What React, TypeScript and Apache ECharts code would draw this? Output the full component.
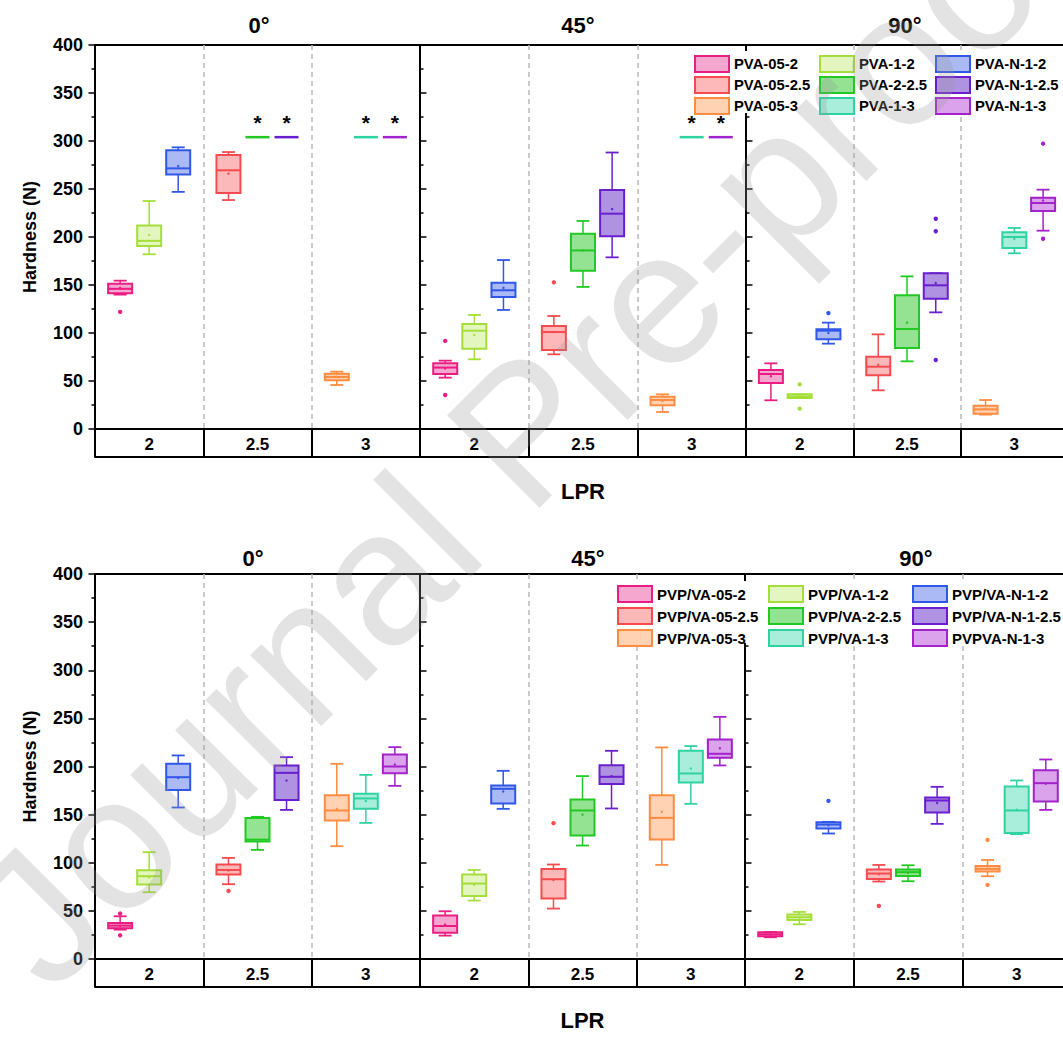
import React, { useEffect, useRef } from 'react';
import * as echarts from 'echarts';

// ---------- data ----------
const LPR = ['2', '2.5', '3'];
const ANGLES = ['0°', '45°', '90°'];

// box order inside each panel: LPR 2 (05, 1, N-1), LPR 2.5 (05, 2, N-1), LPR 3 (05, 1, N-1)
const PVA_NAMES = ['PVA-05-2', 'PVA-1-2', 'PVA-N-1-2', 'PVA-05-2.5', 'PVA-2-2.5', 'PVA-N-1-2.5', 'PVA-05-3', 'PVA-1-3', 'PVA-N-1-3'];
const PVP_NAMES = ['PVP/VA-05-2', 'PVP/VA-1-2', 'PVP/VA-N-1-2', 'PVP/VA-05-2.5', 'PVP/VA-2-2.5', 'PVP/VA-N-1-2.5', 'PVP/VA-05-3', 'PVP/VA-1-3', 'PVPVA-N-1-3'];

// value at which samples above the measuring limit are marked with "*"
const LIMIT_MARK = 304;

// [min, Q1, median, Q3, max, mean] ; null = above the measuring limit (*)
const PVA_0 = [
  [140, 141.3, 146, 151.4, 154.5, 147],
  [182, 190.6, 196, 212, 237.5, 202],
  [247, 265, 271.5, 290.3, 293.4, 274],
  [238.5, 245.8, 269.5, 285.4, 288.5, 266],
  null,
  null,
  [45.8, 50.7, 54.2, 57.6, 59.7, 54.5],
  null,
  null,
];
const PVA_0_OUT = [[122], [], [], [], [], [], [], [], []];

const PVA_45 = [
  [53.5, 57.3, 64, 68.4, 71.2, 63],
  [72.6, 83.7, 102.4, 109.4, 118.8, 98],
  [124, 137.5, 144.5, 152.4, 176, 147],
  [77.8, 82.3, 101, 107.3, 117.7, 101],
  [148, 164.9, 186, 203.5, 216.7, 186],
  [178.8, 200.7, 224.3, 249, 288, 229],
  [17.7, 24.7, 30.2, 33.7, 36.1, 29],
  null,
  null,
];
const PVA_45_OUT = [[91.7, 35.4], [], [], [152.8], [], [], [], [], []];

const PVA_90 = [
  [29.9, 47.9, 57.3, 61.5, 68.4, 55],
  [32.3, 32.3, 34, 36.1, 36.1, 34],
  [88.9, 93.4, 102.4, 103.8, 110.8, 100],
  [40.3, 55.9, 64.9, 75.3, 98.6, 67],
  [70.5, 84.4, 104.2, 139.3, 159, 110.8],
  [121.5, 135.7, 149.7, 162.2, 162.2, 152],
  [15, 16, 20.5, 24.3, 30.2, 21],
  [183, 188.5, 200, 204.9, 209.4, 198],
  [206.6, 227, 235.4, 241, 249.3, 238],
];
const PVA_90_OUT = [[], [46.5, 21.2], [120.8], [], [], [219, 206, 71.9], [], [], [297.2, 198.2]];

const PVP_0 = [
  [30.5, 31.9, 34.7, 37.4, 44.4, 34.5],
  [69.4, 77.4, 86, 92.2, 111, 85],
  [157.4, 175.7, 188.9, 202.8, 211.5, 188],
  [77.7, 87.8, 92.5, 98.2, 105, 92],
  [113.4, 122, 124, 146.6, 147.7, 130.4],
  [154.9, 165.3, 193.4, 201.1, 209.7, 185.5],
  [117.2, 143.9, 154.3, 170.2, 202.8, 156],
  [141.4, 156, 166.8, 171.6, 191.3, 164],
  [179.9, 193.1, 200, 212.5, 220.1, 202],
];
const PVP_0_OUT = [[47.2, 24.6], [], [], [70.7], [], [], [], [], []];

const PVP_45 = [
  [24.3, 27.4, 34.3, 45.1, 49.6, 35.7],
  [60.7, 65.5, 78.4, 87.8, 92.5, 77],
  [156, 161.6, 176.8, 180.3, 195.5, 174],
  [52.4, 62.8, 82.9, 93.6, 98.2, 82],
  [117.9, 128.3, 154.3, 165.7, 190, 150],
  [156.4, 181.7, 189.3, 201.4, 216.3, 190],
  [97.8, 124.2, 146.6, 170.2, 219.8, 153],
  [161.2, 183.4, 192.8, 216.3, 221.2, 198],
  [201.1, 209, 213.2, 228.1, 251.6, 219],
];
const PVP_45_OUT = [[], [], [], [141.1], [], [], [], [], []];

const PVP_90 = [
  [22.6, 23.6, 25.7, 27.8, 28, 25.5],
  [36.1, 40.6, 43.4, 46.2, 48.9, 43],
  [130.4, 135.6, 139.7, 142.1, 142.5, 139],
  [80.5, 83.2, 88.8, 92.9, 97.7, 88],
  [80.8, 86.3, 90.2, 92.9, 97.4, 89.5],
  [140.4, 152.2, 164.7, 167.8, 178.9, 162],
  [86, 90.9, 93.6, 96.7, 102.9, 94],
  [129.7, 131, 154.3, 179.3, 185.5, 155],
  [154.9, 163.7, 182.7, 196.2, 207.3, 182],
];
const PVP_90_OUT = [[], [], [164.3], [55.1], [], [], [123.7, 77], [], []];

// ---------- styles ----------
const BORDER = ['#EA1E82', '#A5DE3A', '#3058E8', '#F54B4F', '#22C922', '#6A1FCF', '#FF8C40', '#2ED3A1', '#A322CC'];
const FILL = ['#F5A7D0', '#E4F6BF', '#ABB9F4', '#FDB9BA', '#93E393', '#AF92E2', '#FFD2B3', '#A9EEDA', '#DBA3EC'];
const FONT = '"Liberation Sans", Arial, Helvetica, sans-serif';

const BOX_W = 24;
const CAP_W = 13;
const SLOT_SHIFT = 0.268;

const ROWS = [
  { names: PVA_NAMES, boxes: [PVA_0, PVA_45, PVA_90], outs: [PVA_0_OUT, PVA_45_OUT, PVA_90_OUT], top: 45, height: 384, lefts: [95, 420, 746], widths: [325, 326, 322], titleX: [259, 578, 905], titleTop: 14.5, legendLeft: [694, 819, 935], legendTop: 55, legendGap: 3, legendFont: 14.8, lprGap: 23 },
  { names: PVP_NAMES, boxes: [PVP_0, PVP_45, PVP_90], outs: [PVP_0_OUT, PVP_45_OUT, PVP_90_OUT], top: 574, height: 385, lefts: [95, 420, 745], widths: [325, 325, 326], titleX: [253, 588, 916], titleTop: 547, legendLeft: [617, 768, 912], legendTop: 585, legendGap: 4, legendFont: 15, lprGap: 22 },
];

function makeRenderItem(slot: number, border: string, fill: string, outliers: number[], over: boolean) {
  return (_params: any, api: any) => {
    const cat = api.value(0);
    const band = api.size([1, 0])[0];
    const cx = api.coord([cat, 0])[0] + (slot - 1) * band * SLOT_SHIFT;
    const Y = (v: number) => api.coord([cat, v])[1];
    const half = BOX_W / 2;
    if (over) {
      const yl = Y(api.value(3));
      return {
        type: 'group',
        children: [
          { type: 'line', shape: { x1: cx - half, y1: yl, x2: cx + half, y2: yl }, style: { stroke: border, lineWidth: 2.5 } },
          {
            type: 'text', x: cx, y: yl - 15,
            style: { text: '*', fill: '#000', font: `bold 21px ${FONT}`, align: 'center', verticalAlign: 'middle', textAlign: 'center', textVerticalAlign: 'middle' },
          },
        ],
      };
    }
    const ymin = Y(api.value(1));
    const yq1 = Y(api.value(2));
    const ymed = Y(api.value(3));
    const yq3 = Y(api.value(4));
    const ymax = Y(api.value(5));
    const ymean = Y(api.value(6));
    const children: any[] = [
      { type: 'line', shape: { x1: cx, y1: yq3, x2: cx, y2: ymax }, style: { stroke: border, lineWidth: 1.5 } },
      { type: 'line', shape: { x1: cx, y1: yq1, x2: cx, y2: ymin }, style: { stroke: border, lineWidth: 1.5 } },
      { type: 'line', shape: { x1: cx - CAP_W / 2, y1: ymax, x2: cx + CAP_W / 2, y2: ymax }, style: { stroke: border, lineWidth: 1.8 } },
      { type: 'line', shape: { x1: cx - CAP_W / 2, y1: ymin, x2: cx + CAP_W / 2, y2: ymin }, style: { stroke: border, lineWidth: 1.8 } },
      { type: 'rect', shape: { x: cx - half, y: yq3, width: BOX_W, height: Math.max(yq1 - yq3, 1) }, style: { fill, stroke: border, lineWidth: 2 } },
      { type: 'line', shape: { x1: cx - half, y1: ymed, x2: cx + half, y2: ymed }, style: { stroke: border, lineWidth: 2 } },
      { type: 'circle', shape: { cx, cy: ymean, r: 1.2 }, style: { fill: border } },
    ];
    outliers.forEach((o) => {
      children.push({ type: 'circle', shape: { cx, cy: Y(o), r: 2.2 }, style: { fill: border } });
    });
    return { type: 'group', children };
  };
}

function buildOption() {
  const grid: any[] = [];
  const xAxis: any[] = [];
  const yAxis: any[] = [];
  const series: any[] = [];
  const title: any[] = [];
  const legend: any[] = [];

  ROWS.forEach((row, r) => {
    for (let p = 0; p < 3; p++) {
      const g = r * 3 + p;
      grid.push({
        left: row.lefts[p], width: row.widths[p], top: row.top, height: row.height,
        show: true, borderColor: '#000', borderWidth: 2, backgroundColor: 'transparent',
        containLabel: false, outerBoundsMode: 'none',
      });
      xAxis.push({
        type: 'category', gridIndex: g, data: LPR, position: 'bottom', boundaryGap: true,
        axisLine: { show: true, onZero: false, lineStyle: { color: '#000', width: 2 } },
        axisTick: { show: true, interval: 0, length: 28, inside: false, lineStyle: { color: '#000', width: 2 } },
        axisLabel: { show: true, interval: 0, margin: 6.5, color: '#000', fontSize: 17, fontWeight: 'bold', fontFamily: FONT },
        splitLine: { show: true, interval: 0, showMinLine: false, showMaxLine: false, lineStyle: { color: '#b9b9b9', width: 1.5, type: [5, 4] } },
      });
      xAxis.push({
        type: 'category', gridIndex: g, data: LPR, position: 'bottom', offset: 28,
        axisLine: { show: true, onZero: false, lineStyle: { color: '#000', width: 2 } },
        axisTick: { show: false }, axisLabel: { show: false }, splitLine: { show: false },
        name: p === 1 ? 'LPR' : '', nameLocation: 'middle', nameGap: row.lprGap, nameMoveOverlap: false,
        nameTextStyle: { color: '#000', fontSize: 22, fontWeight: 'bold', fontFamily: FONT },
      });
      yAxis.push({
        type: 'value', gridIndex: g, min: 0, max: 400, interval: 50,
        axisLine: { show: true, onZero: false, lineStyle: { color: '#000', width: 2 } },
        axisTick: { show: true, inside: p !== 0, length: 6.5, lineStyle: { color: '#000', width: 1.5 } },
        minorTick: { show: true, splitNumber: 2, length: 3.5, lineStyle: { color: '#000', width: 1.5 } },
        axisLabel: p === 0
          ? { show: true, margin: 12, color: '#000', fontSize: 18, fontWeight: 'bold', fontFamily: FONT }
          : { show: false },
        splitLine: { show: false },
        name: p === 0 ? 'Hardness (N)' : '', nameLocation: 'middle', nameGap: 56, nameRotate: 90, nameMoveOverlap: false,
        nameTextStyle: { color: '#000', fontSize: 18, fontWeight: 'bold', fontFamily: FONT },
      });
      title.push({
        text: ANGLES[p], left: row.titleX[p], top: row.titleTop, textAlign: 'center', padding: 0,
        textStyle: { color: '#000', fontSize: 22, fontWeight: 'bold', fontFamily: FONT },
      });
      const boxes = row.boxes[p];
      const outs = row.outs[p];
      boxes.forEach((stats, b) => {
        const cat = Math.floor(b / 3);
        const over = stats === null;
        const vals = over ? [LIMIT_MARK, LIMIT_MARK, LIMIT_MARK, LIMIT_MARK, LIMIT_MARK, LIMIT_MARK] : stats;
        series.push({
          type: 'custom', name: row.names[b], xAxisIndex: g * 2, yAxisIndex: g,
          data: [[cat, ...vals]],
          encode: { x: 0, y: [1, 2, 3, 4, 5] },
          renderItem: makeRenderItem(b % 3, BORDER[b], FILL[b], outs[b], over),
          silent: true, z: 2,
        });
      });
    }
    // three legend columns per row
    for (let c = 0; c < 3; c++) {
      legend.push({
        left: row.legendLeft[c], top: row.legendTop, orient: 'vertical', padding: 0,
        itemWidth: 34, itemHeight: 16, itemGap: row.legendGap, icon: 'rect', selectedMode: false,
        textStyle: { color: '#000', fontSize: row.legendFont, fontWeight: 'bold', fontFamily: FONT },
        data: [c, c + 3, c + 6].map((i) => ({
          name: row.names[i],
          itemStyle: { color: FILL[i], borderColor: BORDER[i], borderWidth: 2 },
        })),
      });
    }
  });

  const graphic: any[] = [
    { type: 'rect', shape: { x: 690, y: 51, width: 373, height: 62 }, style: { fill: '#fff' }, z: 3, silent: true },
    { type: 'rect', shape: { x: 612, y: 581, width: 451, height: 62 }, style: { fill: '#fff' }, z: 3, silent: true },
    {
      type: 'text', x: 4, y: 950, rotation: Math.PI / 4, z: 100, silent: true,
      style: {
        text: 'Journal Pre-proof', font: `normal 190px ${FONT}`, fill: 'rgba(150,150,150,0.27)',
        align: 'left', verticalAlign: 'middle', textAlign: 'left', textVerticalAlign: 'middle',
      },
    },
  ];

  return {
    animation: false,
    backgroundColor: '#ffffff',
    title, legend, grid, xAxis, yAxis, series, graphic,
  };
}

export default function App() {
  const ref = useRef<HTMLDivElement>(null);
  useEffect(() => {
    if (!ref.current) return;
    const chart = echarts.init(ref.current, undefined, { renderer: 'svg' });
    chart.setOption(buildOption() as any);
    return () => chart.dispose();
  }, []);
  return (
    <div
      ref={ref}
      style={{ position: 'fixed', left: 0, top: 0, width: 1063, height: 1041, background: '#fff' }}
    />
  );
}
